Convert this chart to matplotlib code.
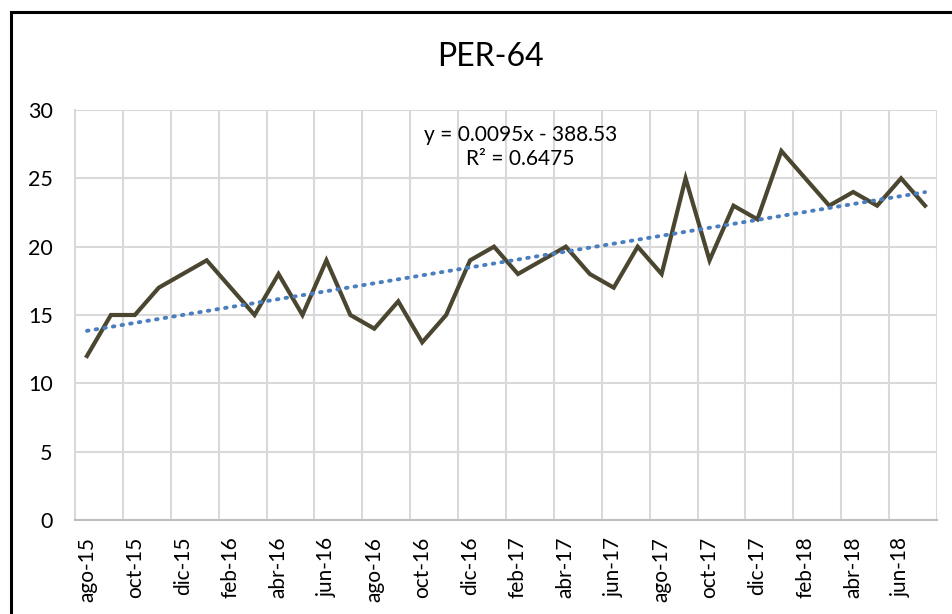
import matplotlib.pyplot as plt
import numpy as np
from matplotlib.patches import Rectangle

plt.rcParams['font.family'] = ['Lato', 'DejaVu Sans']

# monthly values, ago-15 .. jul-18
months = ['ago-15', 'sep-15', 'oct-15', 'nov-15', 'dic-15', 'ene-16',
          'feb-16', 'mar-16', 'abr-16', 'may-16', 'jun-16', 'jul-16',
          'ago-16', 'sep-16', 'oct-16', 'nov-16', 'dic-16', 'ene-17',
          'feb-17', 'mar-17', 'abr-17', 'may-17', 'jun-17', 'jul-17',
          'ago-17', 'sep-17', 'oct-17', 'nov-17', 'dic-17', 'ene-18',
          'feb-18', 'mar-18', 'abr-18', 'may-18', 'jun-18', 'jul-18']
values = [12, 15, 15, 17, 18, 19, 17, 15, 18, 15, 19, 15,
          14, 16, 13, 15, 19, 20, 18, 19, 20, 18, 17, 20,
          18, 25, 19, 23, 22, 27, 25, 23, 24, 23, 25, 23]
equation = 'y = 0.0095x - 388.53\nR² = 0.6475'
title = 'PER-64'

x = np.arange(len(values))
slope, icpt = np.polyfit(x, values, 1)

fig = plt.figure(figsize=(9.52, 6.14), dpi=100)
fig.patches.append(Rectangle((11/952, -0.1), 1.2, 1 - 12/614 + 0.1,
                             transform=fig.transFigure, fill=False,
                             edgecolor='black', linewidth=2.2))
ax = fig.add_axes([75/952, 94/614, 862/952, 410/614])

ax.plot(x, values, color='#4a4630', linewidth=3, solid_joinstyle='miter', zorder=3)
ax.plot(x, slope*x + icpt, color='#4a7ebf', linewidth=2.8, linestyle=(0, (0.4, 1.85)),
        dash_capstyle='round', zorder=4)

ax.set_xlim(-0.5, len(values) - 0.5)
ax.set_ylim(0, 30)
ax.set_yticks(range(0, 31, 5))
ax.set_xticks(x[::2])
ax.set_xticklabels(months[::2], rotation=90, fontsize=15)
ax.set_xticks(np.arange(1.5, len(values), 2), minor=True)
ax.tick_params(axis='x', which='both', length=0, pad=12)
ax.tick_params(axis='y', length=0, pad=16, labelsize=15.5)

ax.grid(True, axis='y', color='#d9d9d9', linewidth=1.5)
ax.grid(True, axis='x', which='minor', color='#d9d9d9', linewidth=1.5)
ax.set_axisbelow(True)
for s in ['top', 'right']:
    ax.spines[s].set_visible(False)
ax.spines['left'].set_color('#d9d9d9')
ax.spines['left'].set_linewidth(1.5)
ax.spines['bottom'].set_color('#bfbfbf')
ax.spines['bottom'].set_linewidth(1.5)

ax.text(18.1, 27.3, equation, ha='center', va='center', fontsize=15,
        linespacing=1.25, zorder=5)
fig.text(490/952, 1 - 57/614, title, ha='center', va='center', fontsize=23)

fig.savefig('out.png', dpi=100)
